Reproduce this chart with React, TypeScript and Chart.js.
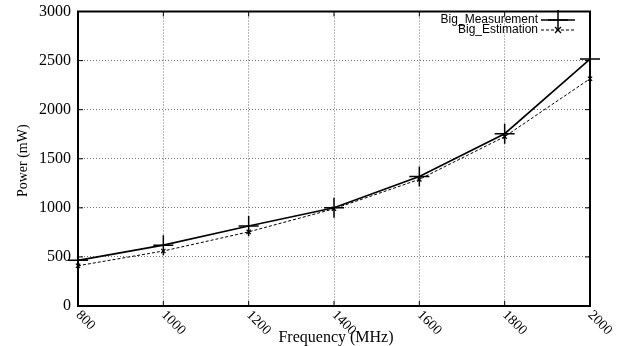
import { useEffect, useRef } from 'react';
import { Chart, registerables } from 'chart.js';

Chart.register(...registerables);

const frequencies = [800, 1000, 1200, 1400, 1600, 1800, 2000];
const measurement = [465, 620, 815, 1000, 1320, 1755, 2515];
const estimation = [410, 560, 755, 990, 1290, 1725, 2315];
const seriesNames = ['Big_Measurement', 'Big_Estimation'];
const xTitle = 'Frequency (MHz)';
const yTitle = 'Power (mW)';
const xMin = 800;
const xMax = 2000;
const xStep = 200;
const yMin = 0;
const yMax = 3000;
const yStep = 500;

const SERIF = '"Liberation Serif", "DejaVu Serif", serif';
const SANS = '"Liberation Sans", Arial, sans-serif';

const framePlugin = {
  id: 'gnuplotFrame',
  afterDraw(chart: any) {
    const { ctx, chartArea: a, scales } = chart;
    const xs = scales.x;
    const ys = scales.y;
    ctx.save();
    ctx.strokeStyle = '#000';
    ctx.fillStyle = '#000';
    const seg = (x1: number, y1: number, x2: number, y2: number) => {
      ctx.beginPath();
      ctx.moveTo(x1, y1);
      ctx.lineTo(x2, y2);
      ctx.stroke();
    };
    // inward tick marks
    ctx.lineWidth = 1;
    ys.ticks.forEach((t: any) => {
      const py = ys.getPixelForValue(t.value);
      seg(a.left, py, a.left + 5, py);
      seg(a.right - 5, py, a.right, py);
    });
    xs.ticks.forEach((t: any) => {
      const px = xs.getPixelForValue(t.value);
      seg(px, a.bottom, px, a.bottom - 5);
      seg(px, a.top, px, a.top + 5);
    });
    // border box
    ctx.lineWidth = 2;
    ctx.strokeRect(a.left, a.top, a.right - a.left, a.bottom - a.top);

    // x tick labels rotated
    ctx.font = '14px ' + SERIF;
    ctx.textAlign = 'left';
    ctx.textBaseline = 'top';
    xs.ticks.forEach((t: any) => {
      const px = xs.getPixelForValue(t.value);
      ctx.save();
      ctx.translate(px + 5, a.bottom + 2);
      ctx.rotate(Math.PI / 4);
      ctx.fillText(String(t.value), 0, 0);
      ctx.restore();
    });

    // axis titles
    ctx.font = '16px ' + SERIF;
    ctx.textAlign = 'center';
    ctx.textBaseline = 'middle';
    ctx.fillText(xTitle, (a.left + a.right) / 2 + 2, 338);
    ctx.save();
    ctx.translate(23, (a.top + a.bottom) / 2 + 2);
    ctx.rotate(-Math.PI / 2);
    ctx.font = '14px ' + SERIF;
    ctx.fillText(yTitle, 0, 0);
    ctx.restore();

    // legend (gnuplot style: text, then sample)
    const ds = chart.data.datasets;
    ctx.font = '12px ' + SANS;
    ctx.textAlign = 'right';
    ctx.textBaseline = 'middle';
    const textRight = a.right - 52;
    const lineL = a.right - 49;
    const lineR = a.right - 15;
    const mid = (lineL + lineR) / 2;
    ds.forEach((d: any, i: number) => {
      const ly = a.top + 8.5 + i * 10;
      ctx.fillStyle = '#000';
      ctx.fillText(d.label, textRight, ly);
      ctx.strokeStyle = d.borderColor;
      ctx.lineWidth = d.borderWidth;
      ctx.setLineDash(d.borderDash || []);
      seg(lineL, ly, lineR, ly);
      ctx.setLineDash([]);
      const r = d.pointRadius;
      ctx.lineWidth = d.pointBorderWidth;
      if (d.pointStyle === 'cross') {
        seg(mid - r, ly, mid + r, ly);
        seg(mid, ly - r, mid, ly + r);
      } else {
        seg(mid - r, ly - r, mid + r, ly + r);
        seg(mid - r, ly + r, mid + r, ly - r);
      }
    });
    ctx.restore();
  },
};

export default function App() {
  const ref = useRef<HTMLCanvasElement | null>(null);
  useEffect(() => {
    document.body.style.margin = '0';
    if (!ref.current) return;
    const chart = new Chart(ref.current, {
      type: 'line',
      data: {
        datasets: [
          {
            label: seriesNames[0],
            data: frequencies.map((f, i) => ({ x: f, y: measurement[i] })),
            borderColor: '#000',
            backgroundColor: '#000',
            borderWidth: 1.6,
            pointStyle: 'cross',
            pointRadius: 10,
            pointBorderWidth: 1.5,
            pointBorderColor: '#000',
            tension: 0,
            clip: false as any,
          },
          {
            label: seriesNames[1],
            data: frequencies.map((f, i) => ({ x: f, y: estimation[i] })),
            borderColor: '#000',
            backgroundColor: '#000',
            borderWidth: 1,
            borderDash: [3, 2],
            pointStyle: 'crossRot',
            pointRadius: 3,
            pointBorderWidth: 1.2,
            pointBorderColor: '#000',
            tension: 0,
            clip: false as any,
          },
        ],
      },
      options: {
        animation: false,
        responsive: true,
        maintainAspectRatio: false,
        layout: { padding: { top: 11, right: 44, left: 0, bottom: 0 } },
        plugins: {
          legend: { display: false },
          tooltip: { enabled: false },
          title: { display: false },
        },
        scales: {
          x: {
            type: 'linear',
            min: xMin,
            max: xMax,
            ticks: { stepSize: xStep, display: false },
            grid: { color: 'rgba(0,0,0,0.55)', drawTicks: false, lineWidth: 1 },
            border: { display: false, dash: [1, 2] },
            afterFit: (s: any) => {
              s.height = 40;
              s.paddingLeft = 0;
              s.paddingRight = 0;
            },
          },
          y: {
            min: yMin,
            max: yMax,
            ticks: {
              stepSize: yStep,
              color: '#000',
              padding: 7,
              font: { family: SERIF, size: 16 },
              callback: (v: any) => String(v),
            },
            grid: { color: 'rgba(0,0,0,0.55)', drawTicks: false, lineWidth: 1 },
            border: { display: false, dash: [1, 2] },
            afterFit: (s: any) => {
              s.width = 78;
              s.paddingTop = 0;
              s.paddingBottom = 0;
            },
          },
        },
      },
      plugins: [framePlugin],
    });
    return () => chart.destroy();
  }, []);
  return (
    <div style={{ width: '634px', height: '346px', position: 'relative' }}>
      <canvas ref={ref} />
    </div>
  );
}
